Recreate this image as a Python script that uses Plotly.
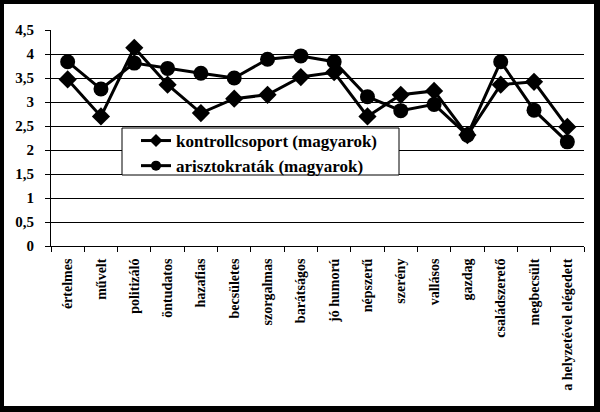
import plotly.graph_objects as go

categories = ["értelmes", "művelt", "politizáló", "öntudatos", "hazafias", "becsületes",
              "szorgalmas", "barátságos", "jó humorú", "népszerű", "szerény", "vallásos",
              "gazdag", "családszerető", "megbecsült", "a helyzetével elégedett"]
kontroll = [3.47, 2.70, 4.13, 3.36, 2.77, 3.07, 3.15, 3.52, 3.62, 2.70, 3.15, 3.23,
            2.31, 3.36, 3.42, 2.48]
arisztokratak = [3.84, 3.27, 3.81, 3.70, 3.60, 3.50, 3.89, 3.96, 3.84, 3.11, 2.82, 2.95,
                 2.31, 3.84, 2.83, 2.17]
series_names = ["kontrollcsoport (magyarok)", "arisztokraták (magyarok)"]
y_ticks = [0, 0.5, 1, 1.5, 2, 2.5, 3, 3.5, 4, 4.5]
y_ticktext = ["0", "0,5", "1", "1,5", "2", "2,5", "3", "3,5", "4", "4,5"]

FONT = "'Liberation Serif', 'Times New Roman', Times, serif"

fig = go.Figure()
series = [(kontroll, "diamond", 14, 10), (arisztokratak, "circle", 15, 10)]
for name, (vals, sym, size, _) in zip(series_names, series):
    fig.add_trace(go.Scatter(
        x=categories, y=vals, name=name, mode="lines+markers",
        line=dict(color="black", width=3),
        marker=dict(symbol=sym, size=size, color="black"),
        showlegend=False,
    ))
# legend entries with smaller markers
for name, (vals, sym, size, lsize) in zip(series_names, series):
    fig.add_trace(go.Scatter(
        x=[None], y=[None], name=name, mode="lines+markers",
        line=dict(color="black", width=3),
        marker=dict(symbol=sym, size=lsize, color="black"),
        showlegend=True,
    ))

W, H = 600, 412
ml, mr, mt, mb = 51, 16, 30, 166
pw, ph = W - ml - mr, H - mt - mb

def px2paper_x(px):
    return (px - ml) / pw

def px2paper_y(py):
    return (H - mb - py) / ph

# white page inside black frame
fig.add_shape(type="rect", xref="paper", yref="paper",
              x0=px2paper_x(4), x1=px2paper_x(594),
              y0=px2paper_y(406), y1=px2paper_y(4),
              fillcolor="white", line=dict(width=0), layer="below")
# legend box
fig.add_shape(type="rect", xref="paper", yref="paper",
              x0=px2paper_x(122), x1=px2paper_x(399),
              y0=px2paper_y(175), y1=px2paper_y(128),
              fillcolor="white", line=dict(color="black", width=1), layer="above")

fig.update_layout(
    width=W, height=H,
    margin=dict(l=ml, r=mr, t=mt, b=mb),
    paper_bgcolor="black",
    plot_bgcolor="white",
    font=dict(family=FONT, color="black"),
    showlegend=True,
    legend=dict(
        x=px2paper_x(136), y=px2paper_y(123), xanchor="left", yanchor="top",
        bgcolor="rgba(0,0,0,0)", borderwidth=0,
        font=dict(family=FONT, size=17, color="black", weight="bold"),
        tracegroupgap=0, itemwidth=30,
    ),
    xaxis=dict(
        type="category", tickson="boundaries", ticks="outside", ticklen=5,
        tickcolor="black", showline=True, linecolor="black", linewidth=1,
        showgrid=False, tickangle=-90, ticklabelstandoff=6,
        tickfont=dict(family=FONT, size=14, color="black", weight="bold"),
        range=[-0.5, len(categories) - 0.5],
    ),
    yaxis=dict(
        range=[0, 4.5], tickvals=y_ticks, ticktext=y_ticktext,
        ticks="outside", ticklen=5, tickcolor="black", ticklabelstandoff=8,
        showline=True, linecolor="black", linewidth=1,
        showgrid=True, gridcolor="black", gridwidth=1, zeroline=False,
        tickfont=dict(family=FONT, size=15, color="black", weight="bold"),
    ),
)

fig.write_html("out.html", config={"displayModeBar": False},
               post_script="document.body.style.margin='0';document.body.style.overflow='hidden';")
